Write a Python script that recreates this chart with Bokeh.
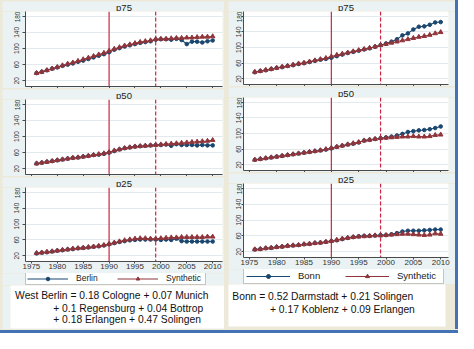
from bokeh.plotting import figure
from bokeh.models import Range1d, FixedTicker, Span, Label, Legend, LegendItem, Spacer
from bokeh.layouts import row, column
from bokeh.embed import file_html
from bokeh.resources import INLINE

# ---------------- data ----------------
years = [1976, 1977, 1978, 1979, 1980, 1981, 1982, 1983, 1984, 1985,
         1986, 1987, 1988, 1989, 1990, 1991, 1992, 1993, 1994, 1995,
         1996, 1997, 1998, 1999, 2000, 2001, 2002, 2003, 2004, 2005,
         2006, 2007, 2008, 2009, 2010]
x_ticks = [1975, 1980, 1985, 1990, 1995, 2000, 2005, 2010]
y_ticks = [20, 60, 100, 140, 180]
panel_titles = ["p75", "p50", "p25"]
treat_year = 1990
post_year = 1999

berlin_p75 = [39, 42, 46, 50, 53, 57, 60, 63, 67, 70, 74, 78, 82, 86, 91, 97, 101, 105, 108, 111,
              114, 116, 118, 122, 123, 123, 122, 124, 121, 111, 117, 117, 115, 118, 120]
synth_b_p75 = [39, 42, 46, 50, 54, 58, 62, 65, 69, 73, 77, 81, 85, 89, 94, 99, 103, 107, 110, 113,
               116, 118, 120, 123, 124, 124, 125, 126, 126, 127, 127, 128, 129, 129, 130]
berlin_p50 = [33, 35, 37, 39, 41, 43, 45, 47, 48, 50, 52, 54, 55, 57, 60, 64, 68, 71, 73, 75,
              76, 77, 78, 79, 79, 80, 77, 81, 79, 79, 79, 78, 79, 78, 78]
synth_b_p50 = [33, 35, 37, 39, 41, 43, 45, 47, 48, 50, 52, 54, 56, 58, 61, 65, 68, 71, 73, 75,
               76, 77, 78, 79, 80, 81, 82, 83, 84, 85, 86, 87, 88, 89, 91]
berlin_p25 = [26, 28, 29, 31, 33, 34, 36, 37, 39, 40, 41, 43, 44, 46, 49, 52, 55, 57, 59, 60,
              61, 61, 61, 61, 60, 61, 60, 63, 57, 56, 56, 56, 56, 56, 56]
synth_b_p25 = [27, 28, 30, 31, 33, 35, 36, 38, 39, 40, 42, 43, 45, 47, 50, 53, 56, 59, 61, 63,
               64, 64, 63, 63, 64, 65, 66, 66, 67, 67, 67, 67, 67, 68, 68]

bonn_p75 = [37, 40, 42, 45, 48, 50, 53, 55, 58, 60, 63, 66, 69, 71, 74, 78, 82, 86, 89, 92,
            95, 98, 102, 106, 110, 115, 121, 131, 136, 146, 153, 154, 158, 164, 165]
synth_n_p75 = [38, 40, 43, 45, 48, 51, 53, 56, 59, 61, 64, 67, 70, 73, 77, 81, 84, 87, 90, 93,
               96, 99, 102, 106, 109, 112, 115, 118, 121, 124, 127, 129, 132, 136, 139]
bonn_p50 = [33, 35, 37, 39, 41, 43, 45, 47, 49, 51, 53, 55, 57, 59, 62, 66, 69, 72, 74, 77,
            82, 84, 86, 88, 90, 92, 95, 99, 104, 106, 108, 109, 111, 114, 118]
synth_n_p50 = [33, 35, 37, 39, 41, 43, 45, 47, 49, 51, 53, 55, 57, 60, 63, 66, 69, 72, 75, 78,
               82, 84, 86, 88, 89, 90, 91, 92, 92, 93, 92, 92, 93, 96, 97]
bonn_p25 = [26, 27, 29, 30, 32, 33, 35, 36, 37, 39, 40, 42, 43, 45, 47, 49, 52, 55, 57, 59,
            60, 60, 61, 62, 62, 64, 67, 71, 73, 73, 73, 74, 75, 76, 76]
synth_n_p25 = [26, 27, 29, 30, 32, 33, 35, 36, 37, 39, 40, 42, 43, 45, 47, 50, 53, 55, 57, 58,
               59, 60, 61, 61, 62, 63, 64, 65, 65, 64, 63, 62, 63, 66, 65]

left_names = ["Berlin", "Synthetic"]
right_names = ["Bonn", "Synthetic"]
left_text = ["West Berlin = 0.18 Cologne + 0.07 Munich",
             "+ 0.1 Regensburg + 0.04 Bottrop",
             "+ 0.18 Erlangen + 0.47 Solingen"]
right_text = ["Bonn = 0.52 Darmstadt + 0.21 Solingen",
              "+ 0.17 Koblenz + 0.09 Erlangen"]

# ---------------- style ----------------
BEIGE = "#ece9d8"
PANEL = "#eaf2f3"
GRID = "#e2eaee"
BLUE_BORDER = "#4473b5"
TREAT_COL = "#1a476f"
SYN_COL = "#90353b"
VLINE = "#cc2440"
AXIS = "#4a4a4a"
FONT = "Liberation Sans"
Y_RANGE = (5.7, 191.9)


def bare(w, h, xr=(0, 1), yr=(0, 1), fill=PANEL, border=PANEL,
         left=0, right=0, top=0, bottom=0):
    p = figure(width=w, height=h, x_range=Range1d(*xr), y_range=Range1d(*yr),
               x_axis_type=None, y_axis_type=None,
               output_backend="svg", toolbar_location=None,
               min_border_left=left, min_border_right=right,
               min_border_top=top, min_border_bottom=bottom)
    p.frame_align = False
    p.background_fill_color = fill
    p.border_fill_color = border
    p.outline_line_color = None
    return p


def title_strip(text, w, h, cx):
    p = bare(w, h)
    p.add_layout(Label(x=cx, y=h / 2, x_units="screen", y_units="screen", text=text,
                       text_align="center", text_baseline="middle",
                       text_font=FONT, text_font_size="9.5px", text_color="#222222"))
    return p


def make_panel(treated, synth, xr, w, h, top, bottom, left, right,
               show_x, ytick_out, ylab_standoff):
    p = figure(width=w, height=h, x_range=Range1d(*xr), y_range=Range1d(*Y_RANGE),
               output_backend="svg", toolbar_location=None,
               min_border_top=top, min_border_bottom=bottom,
               min_border_left=left, min_border_right=right)
    p.frame_align = False
    p.background_fill_color = "white"
    p.border_fill_color = PANEL
    p.outline_line_color = None
    p.xgrid.visible = False
    p.ygrid.grid_line_color = GRID
    p.ygrid.grid_line_width = 1

    p.xaxis.ticker = FixedTicker(ticks=x_ticks)
    p.yaxis.ticker = FixedTicker(ticks=y_ticks)
    for ax in (p.xaxis[0], p.yaxis[0]):
        ax.axis_line_color = AXIS
        ax.major_tick_line_color = AXIS
        ax.minor_tick_line_color = None
        ax.major_tick_in = 0
        ax.major_label_text_font = FONT
        ax.major_label_text_color = "#333333"
    p.yaxis.major_tick_out = ytick_out
    p.yaxis.major_label_standoff = ylab_standoff
    p.yaxis.major_label_orientation = "vertical"
    p.yaxis.major_label_text_font_size = "6.5px"
    p.xaxis.major_tick_out = 2
    p.xaxis.major_label_standoff = 0
    if show_x:
        p.xaxis.major_label_text_font_size = "8px"
    else:
        p.xaxis.major_label_overrides = {t: "" for t in x_ticks}
        p.xaxis.major_label_text_font_size = "1px"

    p.add_layout(Span(location=treat_year, dimension="height", line_color=VLINE,
                      line_width=1.2, level="underlay"))
    p.add_layout(Span(location=post_year, dimension="height", line_color=VLINE,
                      line_width=1.2, line_dash="4 2", level="underlay"))

    p.line(years, treated, line_color=TREAT_COL, line_width=1.1)
    p.scatter(years, treated, marker="circle", size=3.6,
              fill_color=TREAT_COL, line_color=TREAT_COL)
    p.line(years, synth, line_color=SYN_COL, line_width=1.1)
    p.scatter(years, synth, marker="triangle", size=4.6,
              fill_color=SYN_COL, line_color=SYN_COL)
    return p


def legend_strip(treated, synth, names, w, h, loc, cfg):
    p = bare(w, h, xr=(1973, 2012), yr=(0, 1))
    l1 = p.line(years, treated, line_color=TREAT_COL, line_width=1.1, visible=False)
    s1 = p.scatter(years, treated, marker="circle", size=3.6,
                   fill_color=TREAT_COL, line_color=TREAT_COL, visible=False)
    l2 = p.line(years, synth, line_color=SYN_COL, line_width=1.1, visible=False)
    s2 = p.scatter(years, synth, marker="triangle", size=4.6,
                   fill_color=SYN_COL, line_color=SYN_COL, visible=False)
    lg = Legend(items=[LegendItem(label=names[0], renderers=[l1, s1]),
                       LegendItem(label=names[1], renderers=[l2, s2])],
                orientation="horizontal", location=loc, margin=0,
                border_line_color="#8a8a8a", background_fill_color="white",
                label_text_font=FONT, label_text_color="#222222",
                inactive_fill_alpha=0, **cfg)
    p.add_layout(lg)
    return p


def make_text(lines, positions, w, h, left, right, bottom, border_col):
    p = bare(w, h, fill="white", border=border_col, left=left, right=right, bottom=bottom)
    for txt, (x, y) in zip(lines, positions):
        p.add_layout(Label(x=x, y=y, x_units="screen", y_units="screen", text=txt,
                           text_align="left", text_baseline="middle",
                           text_font=FONT, text_font_size="10.3px",
                           text_color="#111111"))
    return p


# ---------------- left column ----------------
WL = 222
XR_L = (1973.86, 2011.9)
CX_L = 23 + 197 / 2
left_col = column(
    title_strip(panel_titles[0], WL, 11, CX_L),
    make_panel(berlin_p75, synth_b_p75, XR_L, WL, 77, 0, 2, 23, 2, False, 3, 3),
    title_strip(panel_titles[1], WL, 11, CX_L),
    make_panel(berlin_p50, synth_b_p50, XR_L, WL, 77, 0, 2, 23, 2, False, 3, 3),
    title_strip(panel_titles[2], WL, 11, CX_L),
    make_panel(berlin_p25, synth_b_p25, XR_L, WL, 86, 0, 12, 23, 2, True, 3, 3),
    legend_strip(berlin_p25, synth_b_p25, left_names, WL, 12, (23, 0),
                 dict(padding=1, spacing=3, glyph_width=41, glyph_height=9,
                      label_height=9, label_width=38, label_standoff=8,
                      label_text_font_size="8.5px")),
    make_text(left_text, [(4.6, 33), (42.7, 20.3), (42.7, 8.7)],
              WL, 44, 8, 0, 1, PANEL),
    spacing=0)

# ---------------- right column ----------------
WR = 227
XR_R = (1973.93, 2011.43)
CX_R = 15 + 205 / 2
right_col = column(
    title_strip(panel_titles[0], WR, 11, CX_R),
    make_panel(bonn_p75, synth_n_p75, XR_R, WR, 75, 0, 2, 15, 7, False, 2, 0),
    title_strip(panel_titles[1], WR, 11, CX_R),
    make_panel(bonn_p50, synth_n_p50, XR_R, WR, 75, 0, 2, 15, 7, False, 2, 0),
    title_strip(panel_titles[2], WR, 11, CX_R),
    make_panel(bonn_p25, synth_n_p25, XR_R, WR, 86, 0, 12, 15, 7, True, 2, 0),
    legend_strip(bonn_p25, synth_n_p25, right_names, WR, 15, (15, 0),
                 dict(padding=2, spacing=3, glyph_width=44, glyph_height=10,
                      label_height=10, label_width=44, label_standoff=8,
                      label_text_font_size="9.5px")),
    make_text(right_text, [(3.8, 30), (41.5, 17.3)], WR, 45, 0, 10, 3, BEIGE),
    spacing=0)

top_row = row(Spacer(width=2, height=329), left_col, Spacer(width=4, height=329), right_col,
              Spacer(width=3, height=329, styles={"background-color": BLUE_BORDER}),
              spacing=0, styles={"background-color": BEIGE})
page = column(top_row, Spacer(width=458, height=1),
              Spacer(width=458, height=3, styles={"background-color": BLUE_BORDER}),
              spacing=0, styles={"background-color": BEIGE})

open("out.html", "w").write(file_html(page, INLINE))
